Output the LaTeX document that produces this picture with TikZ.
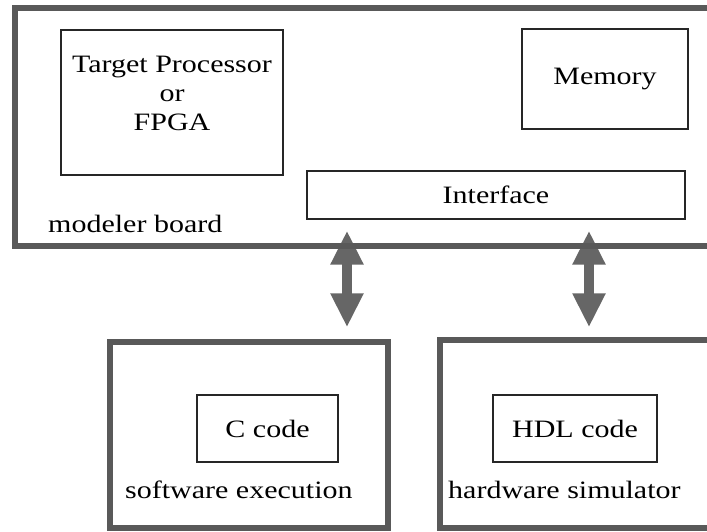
\documentclass[tikz,border=0pt]{standalone}
\usepackage{fontspec}
\setmainfont[FakeStretch=1.2]{Liberation Serif}
\usepackage{tikz}
\usetikzlibrary{arrows.meta}
\pgfdeclarelayer{edgelayer}
\pgfdeclarelayer{nodelayer}
\pgfsetlayers{edgelayer,nodelayer,main}
\tikzstyle{none}=[inner sep=0pt]
\tikzstyle{board}=[rectangle,draw=black!65,line width=5.5pt,inner sep=0pt]
\tikzstyle{block}=[rectangle,draw=black!85,line width=1.4pt,align=center,inner sep=0pt]
\tikzstyle{bus}=[{Triangle[width=31pt,length=34pt]}-{Triangle[width=31pt,length=34pt]},draw=black!60,line width=10pt]

\begin{document}
\begin{tikzpicture}[x=1pt,y=-1pt,font=\fontsize{25}{29}\selectfont]
	\useasboundingbox (0, 0) rectangle (707, 531);
	\begin{pgfonlayer}{nodelayer}
		\node [style=board, minimum width=697pt, minimum height=238pt] (0) at (363.5, 127) {};
		\node [style=block, minimum width=222pt, minimum height=145pt] (1) at (172, 102.5) {Target Processor\\or\\FPGA\\[-11pt]\mbox{}};
		\node [style=block, minimum width=166pt, minimum height=100pt] (2) at (605, 79) {Memory};
		\node [style=block, minimum width=378pt, minimum height=48pt] (3) at (496, 195) {Interface};
		\node [style=none, anchor=base west] (4) at (48, 232) {modeler board};
		\node [style=board, minimum width=278pt, minimum height=186pt] (5) at (249, 435) {};
		\node [style=block, minimum width=141pt, minimum height=67pt] (6) at (267.5, 428.5) {C code};
		\node [style=none, anchor=base west] (7) at (125, 498) {software execution};
		\node [style=board, minimum width=272pt, minimum height=188pt] (8) at (576, 434) {};
		\node [style=block, minimum width=164pt, minimum height=67pt] (9) at (575, 428.5) {HDL code};
		\node [style=none, anchor=base west] (10) at (448, 498) {hardware simulator};
		\coordinate (11) at (347, 0);
		\coordinate (12) at (589, 0);
	\end{pgfonlayer}
	\begin{pgfonlayer}{edgelayer}
		\draw [style=bus, shorten <=11pt, shorten >=12pt] (3.south -| 11) to (5.north -| 11);
		\draw [style=bus, shorten <=11pt, shorten >=10pt] (3.south -| 12) to (8.north -| 12);
	\end{pgfonlayer}
\end{tikzpicture}
\end{document}
